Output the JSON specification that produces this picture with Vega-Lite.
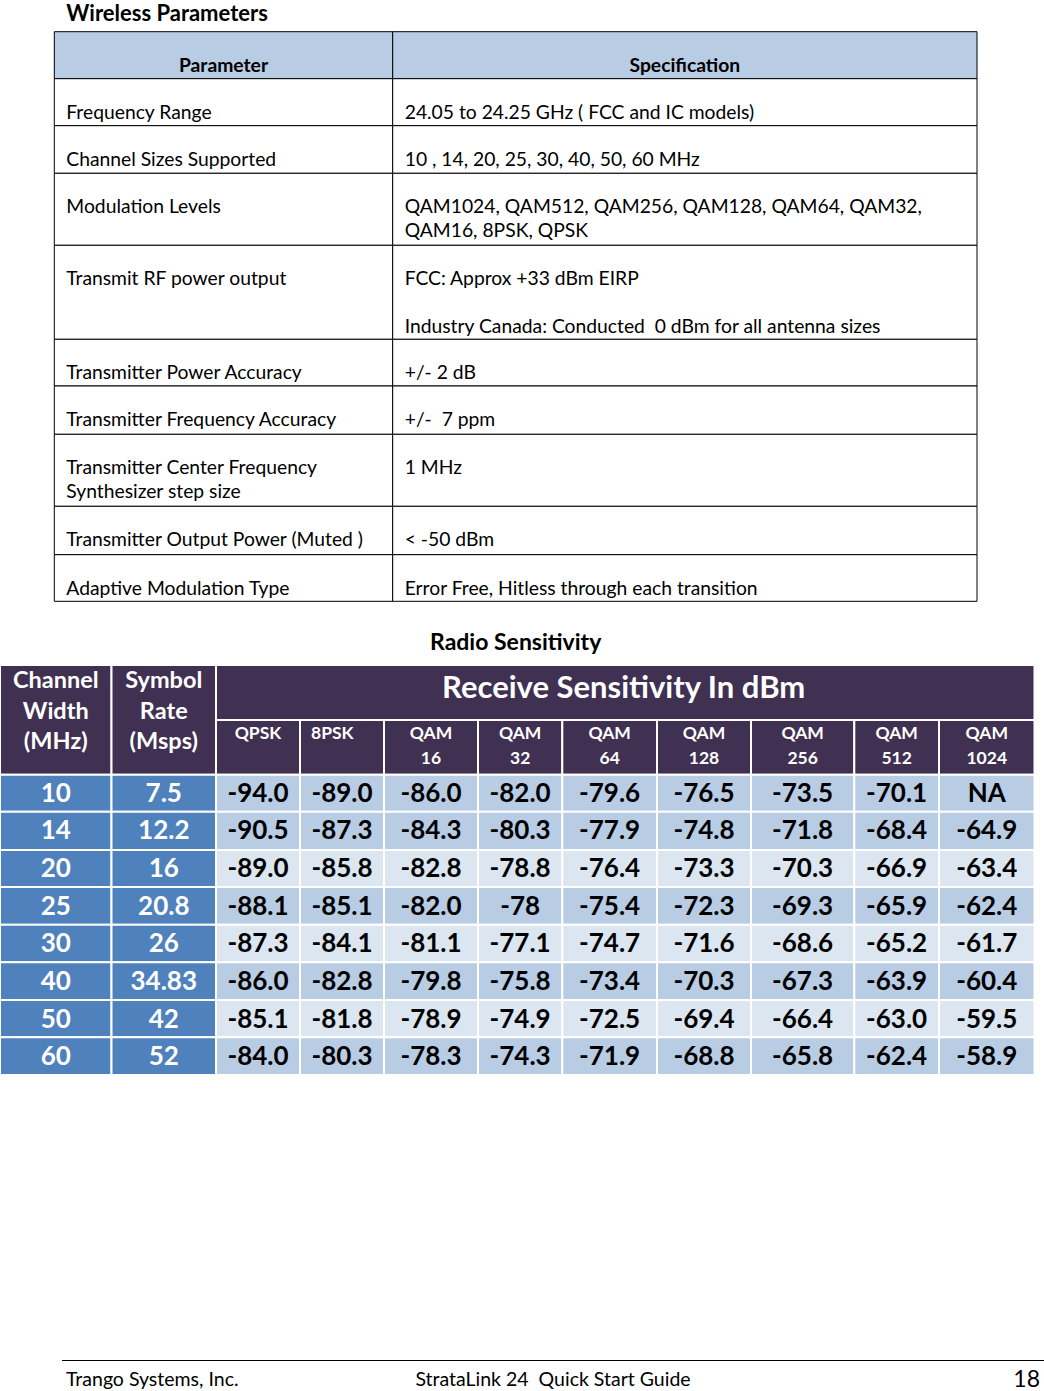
{
  "$schema": "https://vega.github.io/schema/vega-lite/v6.json",
  "width": 1044,
  "height": 1391,
  "autosize": {"type": "none"},
  "padding": 0,
  "background": "white",
  "config": {
    "view": {"stroke": null},
    "axis": {"disable": true},
    "font": "Lato",
    "text": {"font": "Lato"}
  },
  "datasets": {
    "pcols": [
      {"k": "parameter", "c": 0, "c2": 1, "cm": 0.5, "h": "Parameter"},
      {"k": "spec", "c": 1, "c2": 2, "cm": 1.5, "h": "Specification"}
    ],
    "params": [
      {"r": 1, "r2": 2, "parameter": "Frequency Range", "spec": "24.05 to 24.25 GHz ( FCC and IC models)"},
      {"r": 2, "r2": 3, "parameter": "Channel Sizes Supported", "spec": "10 , 14, 20, 25, 30, 40, 50, 60 MHz"},
      {"r": 3, "r2": 4, "parameter": "Modulation Levels", "spec": "QAM1024, QAM512, QAM256, QAM128, QAM64, QAM32,\nQAM16, 8PSK, QPSK"},
      {"r": 4, "r2": 5, "parameter": "Transmit RF power output", "spec": "FCC: Approx +33 dBm EIRP\n\u200b\nIndustry Canada: Conducted \u00a00 dBm for all antenna sizes"},
      {"r": 5, "r2": 6, "parameter": "Transmitter Power Accuracy", "spec": "+/- 2 dB"},
      {"r": 6, "r2": 7, "parameter": "Transmitter Frequency Accuracy", "spec": "+/- \u00a07 ppm"},
      {"r": 7, "r2": 8, "parameter": "Transmitter Center Frequency\nSynthesizer step size", "spec": "1 MHz"},
      {"r": 8, "r2": 9, "parameter": "Transmitter Output Power (Muted )", "spec": "< -50 dBm"},
      {"r": 9, "r2": 10, "parameter": "Adaptive Modulation Type", "spec": "Error Free, Hitless through each transition"}
    ],
    "scols": [
      {"k": "Channel Width", "c": 0, "c2": 1, "cm": 0.5, "hr": 0, "h": "Channel\nWidth\n(MHz)"},
      {"k": "Symbol Rate", "c": 1, "c2": 2, "cm": 1.5, "hr": 0, "h": "Symbol\nRate\n(Msps)"},
      {"k": "QPSK", "c": 2, "c2": 3, "cm": 2.5, "hr": 1, "h": "QPSK"},
      {"k": "8PSK", "c": 3, "c2": 4, "cm": 3.5, "hr": 1, "h": "8PSK"},
      {"k": "QAM16", "c": 4, "c2": 5, "cm": 4.5, "hr": 1, "h": "QAM\n16"},
      {"k": "QAM32", "c": 5, "c2": 6, "cm": 5.5, "hr": 1, "h": "QAM\n32"},
      {"k": "QAM64", "c": 6, "c2": 7, "cm": 6.5, "hr": 1, "h": "QAM\n64"},
      {"k": "QAM128", "c": 7, "c2": 8, "cm": 7.5, "hr": 1, "h": "QAM\n128"},
      {"k": "QAM256", "c": 8, "c2": 9, "cm": 8.5, "hr": 1, "h": "QAM\n256"},
      {"k": "QAM512", "c": 9, "c2": 10, "cm": 9.5, "hr": 1, "h": "QAM\n512"},
      {"k": "QAM1024", "c": 10, "c2": 11, "cm": 10.5, "hr": 1, "h": "QAM\n1024"}
    ],
    "sens": [
      {"r": 2, "r2": 3, "Channel Width": "10", "Symbol Rate": "7.5", "QPSK": "-94.0", "8PSK": "-89.0", "QAM16": "-86.0", "QAM32": "-82.0", "QAM64": "-79.6", "QAM128": "-76.5", "QAM256": "-73.5", "QAM512": "-70.1", "QAM1024": "NA"},
      {"r": 3, "r2": 4, "Channel Width": "14", "Symbol Rate": "12.2", "QPSK": "-90.5", "8PSK": "-87.3", "QAM16": "-84.3", "QAM32": "-80.3", "QAM64": "-77.9", "QAM128": "-74.8", "QAM256": "-71.8", "QAM512": "-68.4", "QAM1024": "-64.9"},
      {"r": 4, "r2": 5, "Channel Width": "20", "Symbol Rate": "16", "QPSK": "-89.0", "8PSK": "-85.8", "QAM16": "-82.8", "QAM32": "-78.8", "QAM64": "-76.4", "QAM128": "-73.3", "QAM256": "-70.3", "QAM512": "-66.9", "QAM1024": "-63.4"},
      {"r": 5, "r2": 6, "Channel Width": "25", "Symbol Rate": "20.8", "QPSK": "-88.1", "8PSK": "-85.1", "QAM16": "-82.0", "QAM32": "-78", "QAM64": "-75.4", "QAM128": "-72.3", "QAM256": "-69.3", "QAM512": "-65.9", "QAM1024": "-62.4"},
      {"r": 6, "r2": 7, "Channel Width": "30", "Symbol Rate": "26", "QPSK": "-87.3", "8PSK": "-84.1", "QAM16": "-81.1", "QAM32": "-77.1", "QAM64": "-74.7", "QAM128": "-71.6", "QAM256": "-68.6", "QAM512": "-65.2", "QAM1024": "-61.7"},
      {"r": 7, "r2": 8, "Channel Width": "40", "Symbol Rate": "34.83", "QPSK": "-86.0", "8PSK": "-82.8", "QAM16": "-79.8", "QAM32": "-75.8", "QAM64": "-73.4", "QAM128": "-70.3", "QAM256": "-67.3", "QAM512": "-63.9", "QAM1024": "-60.4"},
      {"r": 8, "r2": 9, "Channel Width": "50", "Symbol Rate": "42", "QPSK": "-85.1", "8PSK": "-81.8", "QAM16": "-78.9", "QAM32": "-74.9", "QAM64": "-72.5", "QAM128": "-69.4", "QAM256": "-66.4", "QAM512": "-63.0", "QAM1024": "-59.5"},
      {"r": 9, "r2": 10, "Channel Width": "60", "Symbol Rate": "52", "QPSK": "-84.0", "8PSK": "-80.3", "QAM16": "-78.3", "QAM32": "-74.3", "QAM64": "-71.9", "QAM128": "-68.8", "QAM256": "-65.8", "QAM512": "-62.4", "QAM1024": "-58.9"}
    ],
    "footer": [
      {"part": "start", "t": "Trango Systems, Inc."},
      {"part": "middle", "t": "StrataLink 24 \u00a0Quick Start Guide"},
      {"part": "end", "t": "18"}
    ]
  },
  "layer": [
    {
      "layer": [
        {
          "data": {"name": "pcols"},
          "mark": {"type": "rect", "fill": "#b8cce4", "stroke": "black", "strokeWidth": 1},
          "encoding": {
            "x": {"field": "c", "type": "quantitative", "axis": null, "scale": {"domain": [0, 1, 2], "range": [54.3, 392.7, 977], "nice": false, "zero": false}},
            "x2": {"field": "c2"},
            "y": {"datum": 0, "type": "quantitative", "axis": null, "scale": {"domain": [0, 1, 2, 3, 4, 5, 6, 7, 8, 9, 10], "range": [31.7, 78.7, 125.7, 173.3, 245.3, 339.3, 386, 434.3, 506.3, 554.7, 601.3], "nice": false, "zero": false}},
            "y2": {"datum": 1}
          }
        },
        {
          "data": {"name": "params"},
          "transform": [
            {"fold": ["parameter", "spec"], "as": ["key", "value"]},
            {"lookup": "key", "from": {"data": {"name": "pcols"}, "key": "k", "fields": ["c", "c2"]}}
          ],
          "layer": [
            {
              "mark": {"type": "rect", "fill": "white", "stroke": "black", "strokeWidth": 1},
              "encoding": {
                "x": {"field": "c", "type": "quantitative", "axis": null},
                "x2": {"field": "c2"},
                "y": {"field": "r", "type": "quantitative", "axis": null},
                "y2": {"field": "r2"}
              }
            },
            {
              "mark": {"type": "text", "align": "left", "baseline": "alphabetic", "dx": 12, "dy": 40, "fontSize": 19.3, "lineBreak": "\n", "lineHeight": 24, "color": "black"},
              "encoding": {
                "x": {"field": "c", "type": "quantitative", "axis": null},
                "y": {"field": "r", "type": "quantitative", "axis": null},
                "text": {"field": "value"}
              }
            }
          ]
        },
        {
          "data": {"name": "pcols"},
          "mark": {"type": "text", "align": "center", "baseline": "alphabetic", "dy": 40, "fontSize": 19.3, "fontWeight": "bold", "color": "black"},
          "encoding": {
            "x": {"field": "cm", "type": "quantitative", "axis": null},
            "y": {"datum": 0, "type": "quantitative", "axis": null},
            "text": {"field": "h"}
          }
        },
        {
          "data": {"values": [{"t": "Wireless Parameters"}]},
          "mark": {"type": "text", "align": "left", "baseline": "alphabetic", "dx": 12, "dy": -10.5, "fontSize": 22, "fontWeight": "bold", "color": "black"},
          "encoding": {
            "x": {"datum": 0, "type": "quantitative", "axis": null},
            "y": {"datum": 0, "type": "quantitative", "axis": null},
            "text": {"field": "t"}
          }
        }
      ]
    },
    {
      "layer": [
        {
          "data": {"name": "scols"},
          "mark": {"type": "rect", "fill": "#403152", "stroke": "white", "strokeWidth": 2},
          "encoding": {
            "x": {"field": "c", "type": "quantitative", "axis": null, "scale": {"domain": [0, 1, 2, 3, 4, 5, 6, 7, 8, 9, 10, 11], "range": [0, 111.5, 216, 300, 384, 478, 562.3, 657, 751, 854.3, 939, 1034.5], "nice": false, "zero": false}},
            "x2": {"field": "c2"},
            "y": {"field": "hr", "type": "quantitative", "axis": null, "scale": {"domain": [0, 1, 2, 3, 4, 5, 6, 7, 8, 9, 10], "range": [665, 720, 774.8, 811.7, 849.9, 887, 924.7, 962.3, 1000, 1037.3, 1075], "nice": false, "zero": false}},
            "y2": {"datum": 2}
          }
        },
        {
          "data": {"values": [{"h": "Receive Sensitivity In dBm"}]},
          "layer": [
            {
              "mark": {"type": "rect", "fill": "#403152", "stroke": "white", "strokeWidth": 2},
              "encoding": {
                "x": {"datum": 2, "type": "quantitative", "axis": null},
                "x2": {"datum": 11},
                "y": {"datum": 0, "type": "quantitative", "axis": null},
                "y2": {"datum": 1}
              }
            },
            {
              "mark": {"type": "text", "align": "center", "baseline": "middle", "dx": 14, "dy": 23.7, "fontSize": 31, "fontWeight": "bold", "color": "white"},
              "encoding": {
                "x": {"datum": 6.5, "type": "quantitative", "axis": null},
                "y": {"datum": 0, "type": "quantitative", "axis": null},
                "text": {"field": "h"}
              }
            }
          ]
        },
        {
          "data": {"name": "sens"},
          "transform": [
            {"fold": ["Channel Width", "Symbol Rate", "QPSK", "8PSK", "QAM16", "QAM32", "QAM64", "QAM128", "QAM256", "QAM512", "QAM1024"], "as": ["key", "value"]},
            {"lookup": "key", "from": {"data": {"name": "scols"}, "key": "k", "fields": ["c", "c2", "cm"]}}
          ],
          "layer": [
            {
              "mark": {"type": "rect", "stroke": "white", "strokeWidth": 2},
              "encoding": {
                "x": {"field": "c", "type": "quantitative", "axis": null},
                "x2": {"field": "c2"},
                "y": {"field": "r", "type": "quantitative", "axis": null},
                "y2": {"field": "r2"},
                "fill": {
                  "condition": [
                    {"test": "datum.c < 2", "value": "#4f81bd"},
                    {"test": "datum.r == 4 || datum.r == 6 || datum.r == 8", "value": "#dce6f1"}
                  ],
                  "value": "#b8cce4"
                }
              }
            },
            {
              "mark": {"type": "text", "align": "center", "baseline": "middle", "dy": 19.5, "fontSize": 26, "fontWeight": "bold"},
              "encoding": {
                "x": {"field": "cm", "type": "quantitative", "axis": null},
                "y": {"field": "r", "type": "quantitative", "axis": null},
                "text": {"field": "value"},
                "color": {"condition": {"test": "datum.c < 2", "value": "white"}, "value": "black"}
              }
            }
          ]
        },
        {
          "data": {"name": "scols"},
          "transform": [{"filter": "datum.hr == 0"}],
          "mark": {"type": "text", "align": "center", "baseline": "alphabetic", "dy": 23, "fontSize": 23.5, "fontWeight": "bold", "lineBreak": "\n", "lineHeight": 30.5, "color": "white"},
          "encoding": {
            "x": {"field": "cm", "type": "quantitative", "axis": null},
            "y": {"field": "hr", "type": "quantitative", "axis": null},
            "text": {"field": "h"}
          }
        },
        {
          "data": {"name": "scols"},
          "transform": [{"filter": "datum.hr == 1 && datum.k != '8PSK'"}],
          "mark": {"type": "text", "align": "center", "baseline": "alphabetic", "dy": 19, "fontSize": 17.5, "fontWeight": "bold", "lineBreak": "\n", "lineHeight": 25, "color": "white"},
          "encoding": {
            "x": {"field": "cm", "type": "quantitative", "axis": null},
            "y": {"field": "hr", "type": "quantitative", "axis": null},
            "text": {"field": "h"}
          }
        },
        {
          "data": {"name": "scols"},
          "transform": [{"filter": "datum.k == '8PSK'"}],
          "mark": {"type": "text", "align": "left", "baseline": "alphabetic", "dx": 11, "dy": 19, "fontSize": 17.5, "fontWeight": "bold", "color": "white"},
          "encoding": {
            "x": {"field": "c", "type": "quantitative", "axis": null},
            "y": {"field": "hr", "type": "quantitative", "axis": null},
            "text": {"field": "h"}
          }
        },
        {
          "data": {"values": [{"t": "Radio Sensitivity"}]},
          "mark": {"type": "text", "align": "center", "baseline": "alphabetic", "dx": -4.5, "dy": -15, "fontSize": 23, "fontWeight": "bold", "color": "black"},
          "encoding": {
            "x": {"datum": 5.5, "type": "quantitative", "axis": null},
            "y": {"datum": 0, "type": "quantitative", "axis": null},
            "text": {"field": "t"}
          }
        }
      ]
    },
    {
      "layer": [
        {
          "data": {"values": [{"t": "footer rule"}]},
          "mark": {"type": "rule", "color": "black", "strokeWidth": 1},
          "encoding": {
            "x": {"datum": "start", "type": "nominal", "axis": null, "scale": {"type": "point", "domain": ["start", "middle", "end"], "range": [62, 1044], "padding": 0}},
            "x2": {"datum": "end"},
            "y": {"datum": "rule", "type": "nominal", "axis": null, "scale": {"type": "point", "domain": ["rule", "text"], "range": [1360.5, 1380], "padding": 0}}
          }
        },
        {
          "data": {"name": "footer"},
          "transform": [{"filter": "datum.part == 'start'"}],
          "mark": {"type": "text", "align": "left", "baseline": "middle", "dx": 4, "fontSize": 19.5, "color": "black"},
          "encoding": {
            "x": {"field": "part", "type": "nominal", "axis": null},
            "y": {"datum": "text", "type": "nominal", "axis": null},
            "text": {"field": "t"}
          }
        },
        {
          "data": {"name": "footer"},
          "transform": [{"filter": "datum.part == 'middle'"}],
          "mark": {"type": "text", "align": "center", "baseline": "middle", "fontSize": 19.5, "color": "black"},
          "encoding": {
            "x": {"field": "part", "type": "nominal", "axis": null},
            "y": {"datum": "text", "type": "nominal", "axis": null},
            "text": {"field": "t"}
          }
        },
        {
          "data": {"name": "footer"},
          "transform": [{"filter": "datum.part == 'end'"}],
          "mark": {"type": "text", "align": "right", "baseline": "middle", "dx": -4, "fontSize": 23, "color": "black"},
          "encoding": {
            "x": {"field": "part", "type": "nominal", "axis": null},
            "y": {"datum": "text", "type": "nominal", "axis": null},
            "text": {"field": "t"}
          }
        }
      ]
    }
  ],
  "resolve": {"scale": {"x": "independent", "y": "independent"}}
}
